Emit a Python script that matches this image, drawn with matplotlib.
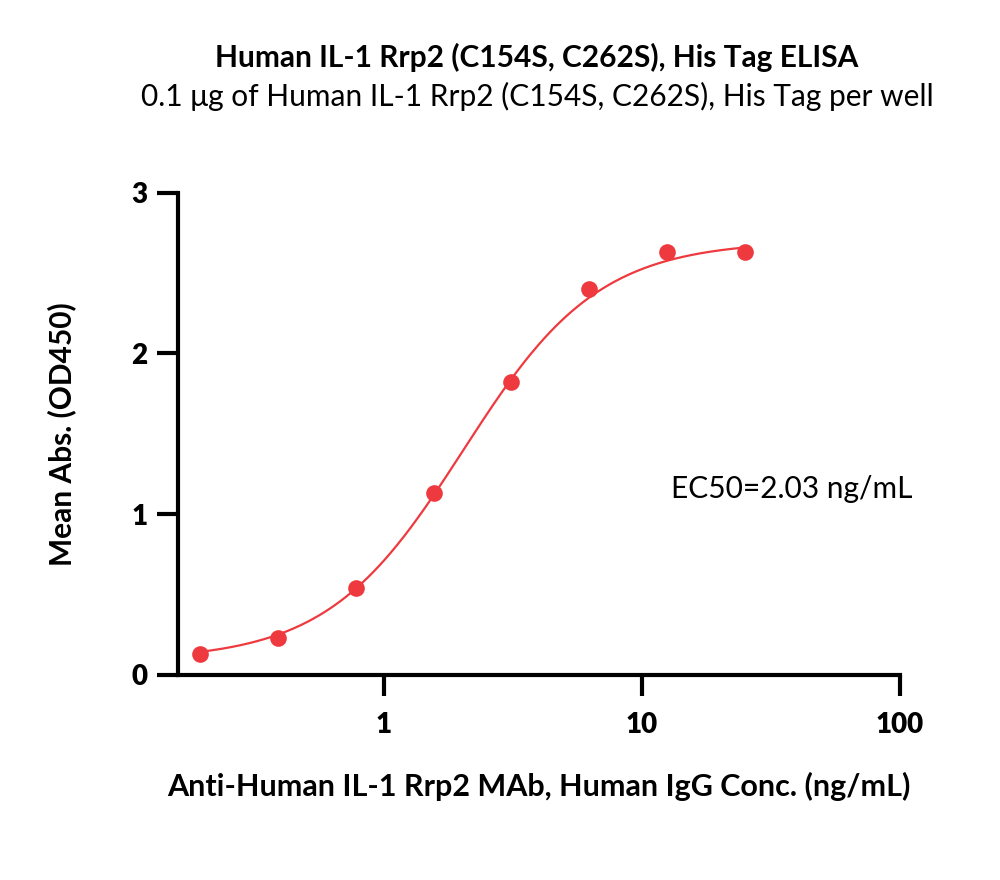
"""ELISA dose-response chart: IL-1 Rrp2 binding curve."""

import matplotlib
matplotlib.use("Agg")
import matplotlib.pyplot as plt
import numpy as np

# ── Data ──────────────────────────────────────────────────────────────
conc = [0.195, 0.39, 0.78, 1.5625, 3.125, 6.25, 12.5, 25.0]
od450 = [0.13, 0.23, 0.54, 1.13, 1.82, 2.40, 2.63, 2.63]

# 4PL fit parameters
fit_bottom = 0.09
fit_top = 2.70
fit_ec50 = 2.03
fit_hill = 1.65

x_ticks = [1, 10, 100]
x_ticklabels = ["1", "10", "100"]
y_ticks = [0, 1, 2, 3]

RED = "#EE3A3F"
FONT = ["Lato", "DejaVu Sans"]

plt.rcParams["font.family"] = FONT

fig = plt.figure(figsize=(10, 8.8), dpi=100)
ax = fig.add_axes([0.178, 0.233, 0.722, 0.548])

# fitted curve
xs = np.logspace(np.log10(conc[0]), np.log10(conc[-1]), 300)
ys = fit_bottom + (fit_top - fit_bottom) / (1 + (fit_ec50 / xs) ** fit_hill)
ax.plot(xs, ys, color=RED, lw=1.6, zorder=2)
ax.plot(conc, od450, "o", color=RED, ms=12, mec="none", zorder=3)

ax.set_xscale("log")
ax.set_xlim(0.16, 100)
ax.set_ylim(0, 3)
ax.set_xticks(x_ticks)
ax.set_xticklabels(x_ticklabels)
ax.xaxis.set_minor_locator(matplotlib.ticker.NullLocator())
ax.set_yticks(y_ticks)

for s in ("top", "right"):
    ax.spines[s].set_visible(False)
for s in ("left", "bottom"):
    ax.spines[s].set_linewidth(3)
    ax.spines[s].set_capstyle("projecting")
ax.tick_params(axis="both", width=3, length=15, labelsize=20)
ax.tick_params(axis="x", pad=12)
ax.tick_params(axis="y", pad=7)
for lbl in ax.get_xticklabels() + ax.get_yticklabels():
    lbl.set_fontweight("heavy")

ax.set_xlabel("Anti-Human IL-1 Rrp2 MAb, Human IgG Conc. (ng/mL)",
              fontsize=22, fontweight="bold", labelpad=24)
ax.set_ylabel("Mean Abs. (OD450)", fontsize=21.5, fontweight="bold", labelpad=40)

ax.text(0.683, 0.385, "EC50=2.03 ng/mL", transform=ax.transAxes,
        fontsize=21.5, ha="left", va="center")

fig.text(0.537, 0.935, "Human IL-1 Rrp2 (C154S, C262S), His Tag ELISA",
         ha="center", va="center", fontsize=21.5, fontweight="bold")
fig.text(0.537, 0.89, "0.1 μg of Human IL-1 Rrp2 (C154S, C262S), His Tag per well",
         ha="center", va="center", fontsize=21.5)

fig.savefig("out.png", dpi=100, facecolor="white")
